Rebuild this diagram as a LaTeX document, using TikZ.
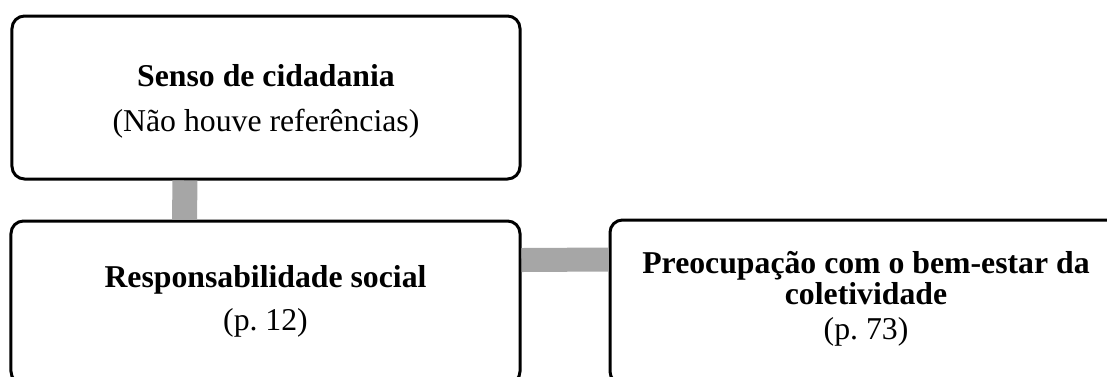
\documentclass[tikz,border=0pt]{standalone}
\usepackage{fontspec}
\setmainfont{Liberation Serif}
\usepackage{tikz}
\frenchspacing

\begin{document}
\begin{tikzpicture}[x=0.4pt,y=-0.4pt,
  caixa/.style={draw, line width=1.2pt, rounded corners=5pt, inner sep=0pt},
  texto/.style={align=center, inner sep=0pt, font=\fontsize{12.7}{11.5}\selectfont},
  ligacao/.style={draw=black!35, line width=10pt}]
%\draw [help lines] (0,0) grid (1107,376);

\clip (0,0) rectangle (1107,376);

% the three boxes
\node [caixa, minimum width=203.2pt, minimum height=65.2pt] (cidadania) at (266,97.5) {};
\node [caixa, minimum width=203.6pt, minimum height=65.2pt] (responsabilidade) at (265.5,302.5) {};
\node [caixa, minimum width=204.8pt, minimum height=65.6pt] (preocupacao) at (866,302) {};

% texts in the boxes
\node [texto] (cidadaniaTexto) at (266,101)
  {\textbf{Senso de cidadania}\\[6.5pt](Não houve referências)};
\node [texto] (responsabilidadeTexto) at (265.5,301.5)
  {\textbf{Responsabilidade social}\\[4.7pt](p. 12)};
\node [texto] (preocupacaoTexto) at (866,299)
  {\textbf{Preocupação com o bem-estar da}\\\textbf{coletividade}\\[2.5pt](p. 73)};

% grey links between the boxes
\draw [ligacao] ([xshift=-32.4pt]cidadania.south) -- ([xshift=-32.4pt]responsabilidade.north);
\draw [ligacao, line width=9.6pt] ([yshift=17pt]responsabilidade.east) -- ([yshift=17pt]preocupacao.west);

\end{tikzpicture}
\end{document}
